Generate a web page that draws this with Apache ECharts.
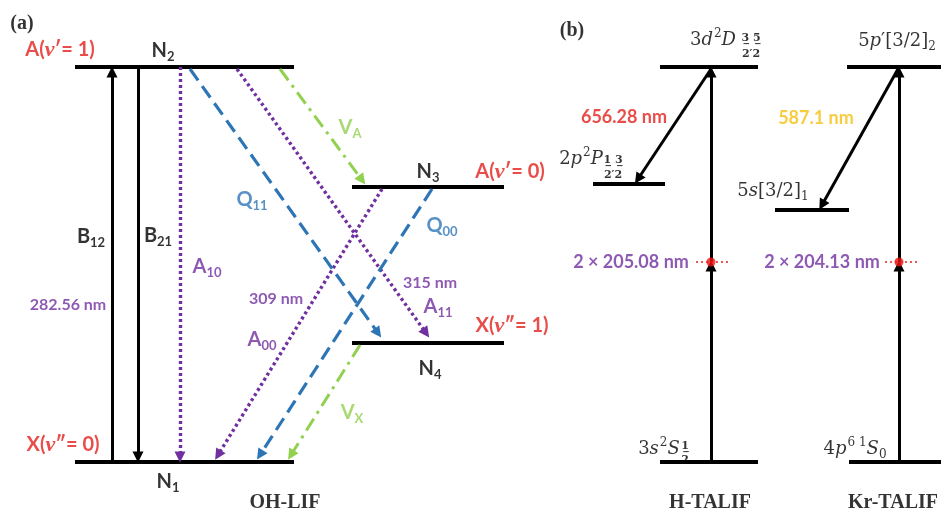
<!DOCTYPE html>
<html><head><meta charset="utf-8">
<script src="https://cdn.jsdelivr.net/npm/echarts@6/dist/echarts.min.js"></script>
<style>html,body{margin:0;padding:0;background:#fff}#c{width:941px;height:513px}</style>
</head><body><div id="c"></div>
<script>
// ---------- DATA (diagram units: x = horizontal place, y = level height, top = 0) ----------
const levelNames = ['N2','N3','N4','N1','H 3d','H 2p','H 3s','Kr 5p\'','Kr 5s','Kr 4p'];
const levelY     = [67, 187, 343, 462, 67, 184, 462, 67, 210, 462];
const levelX0    = [75, 352, 352, 75, 660, 593, 660, 847, 775, 849];
const levelX1    = [294, 504, 504, 294, 758, 665, 758, 941, 849, 941];

const transNames = ['B12','B21','A10','Q11','A11','VA','A00','Q00','VX',
                    'H 2x205.08 a','H 2x205.08 b','H 656.28','Kr 2x204.13 a','Kr 2x204.13 b','Kr 587.1'];
const transKind  = ['solid','solid','dotted','dashed','dotted','dashdot','dotted','dashed','dashdot',
                    'solid','solid','solid','solid','solid','solid'];
const transX0 = [112, 138, 180, 190, 237, 280, 382, 432, 360, 711, 711, 711, 899, 899, 898];
const transY0 = [462,  67,  67,  69,  69,  69, 189, 189, 345, 462, 262,  69, 462, 262,  69];
const transX1 = [112, 138, 180, 378, 426, 362, 218, 260, 291, 711, 711, 638, 899, 899, 822];
const transY1 = [ 72, 457, 457, 333, 333, 180, 455, 455, 455, 266,  72, 179, 266,  72, 205];

const virtualNames = ['H virtual', 'Kr virtual'];
const virtualX  = [711, 899];
const virtualY  = [262, 262];
const virtualX0 = [696, 885];
const virtualX1 = [728, 917];

// text annotations: [text(rich), x, y, colour key, align]
const annotations = [
  ['{p|(a)}', 22, 24, 'k', 'center'],
  ['{b|A(}{g|ν}{b|′= 1)}', 60, 50, 'r', 'center'],
  ['{b|N}{s|2}', 163, 51, 'k', 'center'],
  ['{b|B}{s|12}', 91, 237, 'k', 'center'],
  ['{b|B}{s|21}', 158, 236, 'k', 'center'],
  ['{b|A}{s|10}', 207, 267, 'u', 'center'],
  ['{m|282.56 nm}', 68, 305, 'u', 'center'],
  ['{m|309 nm}', 276, 299, 'u', 'center'],
  ['{b|A}{s|00}', 262, 340, 'u', 'center'],
  ['{b|X(}{g|ν}{b|″= 0)}', 63, 445, 'r', 'center'],
  ['{b|N}{s|1}', 168, 482, 'k', 'center'],
  ['{p|OH-LIF}', 285, 503, 'k', 'center'],
  ['{b|Q}{s|11}', 252, 200, 'bl', 'center'],
  ['{b|V}{s|A}', 350, 128, 'gr', 'center'],
  ['{b|N}{s|3}', 428, 172, 'k', 'center'],
  ['{b|A(}{g|ν}{b|′= 0)}', 510, 172, 'r', 'center'],
  ['{b|Q}{s|00}', 442, 226, 'bl', 'center'],
  ['{m|315 nm}', 430, 283, 'u', 'center'],
  ['{b|A}{s|11}', 438, 307, 'u', 'center'],
  ['{b|X(}{g|ν}{b|″= 1)}', 512, 326, 'r', 'center'],
  ['{b|N}{s|4}', 430, 369, 'k', 'center'],
  ['{b|V}{s|X}', 352, 413, 'gr', 'center'],
  ['{p|(b)}', 572, 31, 'k', 'center'],
  ['{d|3}{i|d}{sup|2}{i|D}', 713, 40, 'k', 'center'],
  ['{f|3̲ 5̲}', 751, 38, 'k', 'center'],
  ['{f|2′2}', 751, 54, 'k', 'center'],
  ['{h|656.28 nm}', 624, 117, 'r', 'center'],
  ['{d|2}{i|p}{sup|2}{i|P}', 581, 159, 'k', 'center'],
  ['{f|1̲ 3̲}', 613, 160, 'k', 'center'],
  ['{f|2′2}', 613, 175, 'k', 'center'],
  ['{d|5}{i|p}{d|′[3/2]}{sub|2}', 897, 41, 'k', 'center'],
  ['{h|587.1 nm}', 816, 118, 'y', 'center'],
  ['{d|5}{i|s}{d|[3/2]}{sub|1}', 773, 191, 'k', 'center'],
  ['{h|2 × 205.08 nm}', 631, 262, 'u', 'center'],
  ['{h|2 × 204.13 nm}', 822, 262, 'u', 'center'],
  ['{d|3}{i|s}{sup|2}{i|S}', 659, 449, 'k', 'center'],
  ['{f|1̲}', 685, 446, 'k', 'center'],
  ['{f|2}', 685, 460, 'k', 'center'],
  ['{d|4}{i|p}{sup|6 1}{i|S}{sub|0}', 855, 449, 'k', 'center'],
  ['{p|H-TALIF}', 710, 503, 'k', 'center'],
  ['{p|Kr-TALIF}', 893, 503, 'k', 'center']
];

// ---------- STYLE ----------
const colours = { k:'#000000', r:'#E3211C', u:'#7030A0', bl:'#2E75B6', gr:'#92D050', y:'#F5C00F' };
const kindStyle = {
  solid:   { color:'#000000', width:3, type:'solid' },
  dotted:  { color:'#7030A0', width:3.4, type:[3,3] },
  dashed:  { color:'#2E75B6', width:3.2, type:[14,7] },
  dashdot: { color:'#92D050', width:3, type:[14,6,3,6] }
};
const sans = 'Lato, "Open Sans", sans-serif';
const serif = '"Liberation Serif", "DejaVu Serif", serif';
const mserif = '"DejaVu Serif", "Liberation Serif", serif';
const rich = {
  b:   { fontFamily:sans, fontWeight:'bold', fontSize:20 },
  s:   { fontFamily:sans, fontWeight:'bold', fontSize:13, padding:[11,0,0,0] },
  g:   { fontFamily:serif, fontWeight:'bold', fontStyle:'italic', fontSize:22 },
  m:   { fontFamily:sans, fontWeight:'bold', fontSize:16 },
  h:   { fontFamily:sans, fontWeight:'bold', fontSize:18 },
  p:   { fontFamily:serif, fontWeight:'bold', fontSize:20 },
  d:   { fontFamily:mserif, fontSize:18 },
  i:   { fontFamily:mserif, fontStyle:'italic', fontSize:18 },
  sup: { fontFamily:mserif, fontSize:12, padding:[0,0,12,1] },
  sub: { fontFamily:mserif, fontSize:12, padding:[12,0,0,0] },
  f:   { fontFamily:mserif, fontWeight:'bold', fontSize:11, lineHeight:12 }
};

// ---------- BUILD ----------
const levelData = levelNames.map((n, i) => ({ name:n, coords:[[levelX0[i], levelY[i]], [levelX1[i], levelY[i]]] }));
const transSeries = Object.keys(kindStyle).map(kind => ({
  type:'lines', coordinateSystem:'cartesian2d', silent:true, z:3,
  symbol:['none','triangle'], symbolSize:[10,11],
  lineStyle:{ ...kindStyle[kind], opacity:1, cap:'butt' },
  data: transNames.map((n, i) => ({ n, i })).filter(o => transKind[o.i] === kind)
        .map(o => ({ name:o.n, coords:[[transX0[o.i], transY0[o.i]], [transX1[o.i], transY1[o.i]]] }))
}));

const option = {
  animation:false,
  backgroundColor:'#ffffff',
  grid:{ left:0, right:0, top:0, bottom:0 },
  xAxis:{ type:'value', min:0, max:941, show:false },
  yAxis:{ type:'value', min:0, max:513, inverse:true, show:false },
  series:[
    { type:'lines', coordinateSystem:'cartesian2d', silent:true, z:2,
      symbol:['none','none'], lineStyle:{ color:'#000', width:4, opacity:1 }, data:levelData },
    ...transSeries,
    { type:'lines', coordinateSystem:'cartesian2d', silent:true, z:4,
      symbol:['none','none'], lineStyle:{ color:'#E3211C', width:1.5, type:[2,3], opacity:1 },
      data: virtualNames.map((n,i) => ({ name:n, coords:[[virtualX0[i], virtualY[i]], [virtualX1[i], virtualY[i]]] })) },
    { type:'scatter', silent:true, z:5, symbol:'circle', symbolSize:9,
      itemStyle:{ color:'#F01010' },
      data: virtualNames.map((n,i) => ({ name:n, value:[virtualX[i], virtualY[i]] })) },
    { type:'scatter', silent:true, z:6, symbolSize:1, itemStyle:{ color:'rgba(0,0,0,0)' },
      data: annotations.map(a => ({
        value:[a[1], a[2]],
        label:{ show:true, position:'inside', align:a[4], verticalAlign:'middle',
                formatter:a[0], color:colours[a[3]], rich }
      })) }
  ]
};
const chart = echarts.init(document.getElementById('c'));
chart.setOption(option);
</script>
</body></html>
